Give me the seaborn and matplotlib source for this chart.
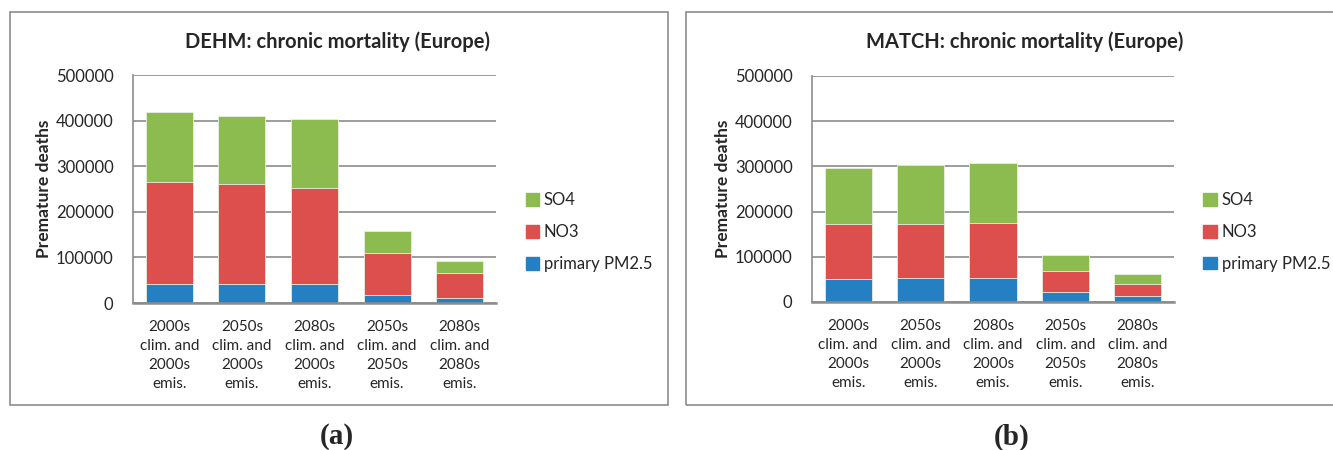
import numpy as np
import pandas as pd
import matplotlib
matplotlib.use("Agg")
import matplotlib.pyplot as plt
from matplotlib.patches import Rectangle, Patch
import seaborn as sns

# scenario labels shared by both panels
scenarios = ["2000s\nclim. and\n2000s\nemis.",
             "2050s\nclim. and\n2000s\nemis.",
             "2080s\nclim. and\n2000s\nemis.",
             "2050s\nclim. and\n2050s\nemis.",
             "2080s\nclim. and\n2080s\nemis."]

# DEHM (a) - premature deaths per component
dehm_pm25 = [42500, 42500, 41000, 18500, 11000]
dehm_no3 = [223000, 217500, 211500, 91500, 54000]
dehm_so4 = [154000, 150000, 150500, 47500, 27000]

# MATCH (b)
match_pm25 = [51500, 52000, 52000, 21500, 14000]
match_no3 = [121500, 121000, 122500, 47500, 26000]
match_so4 = [123000, 129500, 133000, 35000, 22000]

GREEN = "#8CBB4F"
RED = "#DC4F4D"
BLUE = "#2580C3"
FONT = "Lato"

sns.set_theme(style="white")
plt.rcParams['font.family'] = [FONT, 'DejaVu Sans']

fig = plt.figure(figsize=(13.33, 4.5), dpi=100)

# gray frames around each chart (like the Excel chart area)
fig.patches.append(Rectangle((10 / 1333, 1 - 405 / 450), 658 / 1333, 393 / 450,
                             transform=fig.transFigure, fill=False,
                             edgecolor="#8c8c8c", linewidth=1.2))
fig.patches.append(Rectangle((686 / 1333, 1 - 405 / 450), 650 / 1333, 393 / 450,
                             transform=fig.transFigure, fill=False,
                             edgecolor="#8c8c8c", linewidth=1.2))


def draw_panel(ax, pm25, no3, so4, title, title_x):
    df = pd.DataFrame({"scenario": scenarios,
                       "pm": pm25,
                       "no3": np.array(pm25) + np.array(no3),
                       "total": np.array(pm25) + np.array(no3) + np.array(so4)})
    for col, c in [("total", GREEN), ("no3", RED), ("pm", BLUE)]:
        sns.barplot(data=df, x="scenario", y=col, color=c, ax=ax,
                    width=0.65, saturation=1, edgecolor="#e8f0e0", linewidth=0.6)
    ax.set_ylim(0, 500000)
    ax.set_yticks(range(0, 500001, 100000))
    ax.yaxis.grid(True, color="#8c8c8c", linewidth=1.2)
    ax.set_axisbelow(True)
    for s in ["top", "right"]:
        ax.spines[s].set_visible(False)
    ax.spines["left"].set_color("#8c8c8c")
    ax.spines["bottom"].set_color("#8c8c8c")
    ax.spines["left"].set_linewidth(1.2)
    ax.spines["bottom"].set_linewidth(1.8)
    ax.tick_params(axis="y", labelsize=12, pad=14, length=0)
    ax.tick_params(axis="x", labelsize=11, pad=12, length=0)
    for lab in ax.get_xticklabels():
        lab.set_linespacing(1.45)
    ax.set_xlabel("")
    ax.set_ylabel("Premature deaths", fontsize=12.5, fontweight="bold", labelpad=3)
    # title is centred on the whole chart area, not on the axes
    fig.text(title_x / 1333, 1 - 42 / 450, title, ha="center", va="center",
             fontsize=14.5, fontweight="bold")
    handles = [Patch(color=GREEN, label="SO4"),
               Patch(color=RED, label="NO3"),
               Patch(color=BLUE, label="primary PM2.5")]
    ax.legend(handles=handles, loc="center left", bbox_to_anchor=(1.04, 0.31),
              frameon=False, fontsize=12, handlelength=0.8, handleheight=0.8,
              handletextpad=0.3, labelspacing=0.95)


ax1 = fig.add_axes([133 / 1333, 1 - 303 / 450, 363 / 1333, 228 / 450])
draw_panel(ax1, dehm_pm25, dehm_no3, dehm_so4, "DEHM: chronic mortality (Europe)", 338)

ax2 = fig.add_axes([812 / 1333, 1 - 302 / 450, 362 / 1333, 226 / 450])
draw_panel(ax2, match_pm25, match_no3, match_so4, "MATCH: chronic mortality (Europe)", 1025)

fig.text(337 / 1333, 1 - 437 / 450, "(a)", ha="center", va="center", fontsize=21,
         fontweight="bold", family="Liberation Serif")
fig.text(1012 / 1333, 1 - 437 / 450, "(b)", ha="center", va="center", fontsize=21,
         fontweight="bold", family="Liberation Serif")

fig.savefig("out.png", dpi=100)
